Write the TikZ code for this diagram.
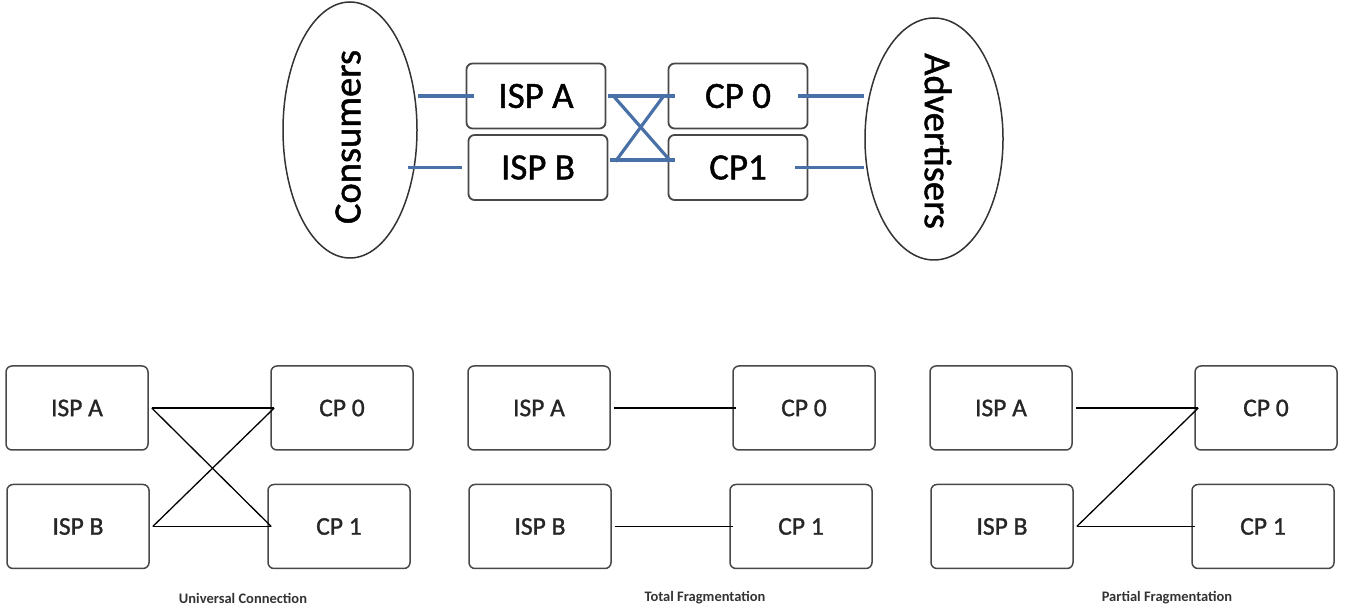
\documentclass[tikz,border=0pt]{standalone}
\usepackage{fontspec}
\setmainfont{Carlito}
\newfontfamily\heavy{Carlito}[FakeBold=1.2]
\usetikzlibrary{shapes.geometric}
\definecolor{linkblue}{RGB}{74,112,168}
\definecolor{boxgray}{RGB}{72,72,72}
\begin{document}
\begin{tikzpicture}[x=1pt,y=1pt,
bigbox/.style={draw=boxgray,line width=1.8pt,rounded corners=6pt,minimum width=139pt,minimum height=65pt,inner sep=0pt,font=\heavy\fontsize{37}{40}\selectfont},
smallbox/.style={draw=boxgray,line width=1.5pt,rounded corners=6pt,minimum width=142pt,minimum height=84pt,inner sep=0pt,text=black!85,font=\heavy\fontsize{25.5}{28}\selectfont},
crowd/.style={draw=black!80,ellipse,line width=1.5pt,inner sep=0pt},
link/.style={linkblue,line width=3.2pt},
wire/.style={black,line width=1.3pt}]
\useasboundingbox (0,0) rectangle (1357,613);

% market with two sides
\node[crowd,minimum width=134pt,minimum height=256pt] (cons) at (350,483) {};
\node[rotate=90,font=\heavy\fontsize{38.5}{40}\selectfont] (consT) at (348,476) {Consumers};
\node[crowd,minimum width=138pt,minimum height=242pt] (adv) at (934,474) {};
\node[rotate=-90,font=\heavy\fontsize{38.5}{40}\selectfont] (advT) at (938,472) {Advertisers};
\node[bigbox] (ispA) at (536,517) {ISP A};
\node[bigbox] (ispB) at (538,445.5) {ISP B};
\node[bigbox] (cp0) at (738,517) {CP 0};
\node[bigbox] (cp1) at (738,445.5) {CP1};
\draw[link] (ispA.west -| cons.east)--([xshift=8pt]ispA.west);
\draw[link] ([xshift=-10pt]cons.east |- ispB.west)--([xshift=-6pt]ispB.west);
\draw[link] ([xshift=2pt]ispA.east)--([xshift=7pt]cp0.west);
\draw[link] ([xshift=2pt,yshift=7.5pt]ispB.east)--([xshift=7pt,yshift=7.5pt]cp1.west);
\draw[link] ([xshift=7pt]ispA.east)--([xshift=2pt,yshift=7.5pt]cp1.west);
\draw[link] ([xshift=7pt,yshift=6pt]ispB.east)--([xshift=-4pt]cp0.west);
\draw[link] ([xshift=-10pt]cp0.east)--(cp0.east -| adv.west);
\draw[link] ([xshift=-13pt]cp1.east)--(cp1.east -| adv.west);

% the three cases
\foreach \k/\cap in {0/Universal Connection,1/Total Fragmentation,2/Partial Fragmentation}{
\node[smallbox] (ispA-\k) at (77+462*\k,205) {ISP A};
\node[smallbox] (ispB-\k) at (78+462*\k,86.5) {ISP B};
\node[smallbox] (cp0-\k) at (342+462*\k,205) {CP 0};
\node[smallbox] (cp1-\k) at (339+462*\k,86.5) {CP 1};
\node[font=\bfseries\fontsize{14.5}{16}\selectfont,text=black!80] (cap-\k) at (243+462*\k,15) {\cap};
}
\foreach \s/\t/\k in {A/0/0,B/1/0,A/1/0,B/0/0,A/0/1,B/1/1,A/0/2,B/1/2,B/0/2}
\draw[wire] ([xshift=3pt]isp\s-\k.east)--([xshift=4pt]cp\t-\k.west);

\end{tikzpicture}
\end{document}
